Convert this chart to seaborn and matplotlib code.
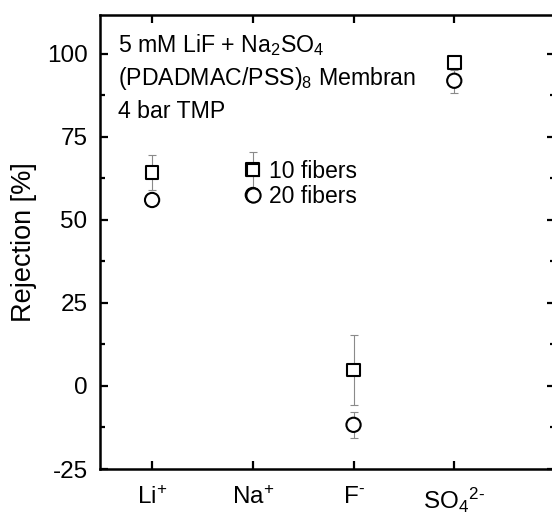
import matplotlib
matplotlib.use("Agg")
import matplotlib.pyplot as plt
from matplotlib.lines import Line2D
import seaborn as sns
import pandas as pd
import numpy as np

# ---- data ----
ions = ["Li+", "Na+", "F-", "SO4 2-"]
tick_labels = ["Li$^{+}$", "Na$^{+}$", "F$^{\\text{-}}$", "SO$_4$$^{2\\text{-}}$"]
fibers10 = [64.2, 65.1, 4.8, 97.3]
fibers10_err = [5.2, 5.4, 10.4, 2.2]
fibers20 = [56.0, 57.5, -11.7, 91.9]
fibers20_err = [1.0, 1.0, 4.0, 3.6]
series_names = ["10 fibers", "20 fibers"]

df = pd.DataFrame({
    "ion": ions * 2,
    "rejection": fibers10 + fibers20,
    "err": fibers10_err + fibers20_err,
    "series": [series_names[0]] * 4 + [series_names[1]] * 4,
})

sns.set_theme(style="white")
plt.rcParams["font.family"] = ["Liberation Sans", "DejaVu Sans"]
plt.rcParams["mathtext.fontset"] = "custom"
plt.rcParams["mathtext.rm"] = "Liberation Sans"
plt.rcParams["mathtext.it"] = "Liberation Sans"
plt.rcParams["axes.unicode_minus"] = False
for k in ["text.color", "axes.labelcolor", "xtick.color", "ytick.color"]:
    plt.rcParams[k] = "black"

fig = plt.figure(figsize=(5.52, 5.14), dpi=100)
ax = fig.add_axes([100 / 552, 45 / 514, 455 / 552, 454 / 514])

# error bars
for name, vals, errs in [(series_names[0], fibers10, fibers10_err),
                         (series_names[1], fibers20, fibers20_err)]:
    ax.errorbar(ions, vals, yerr=errs, fmt="none", ecolor="#8a8a8a",
                elinewidth=0.8, capsize=3.2, capthick=0.8, zorder=2)

sns.scatterplot(data=df, x="ion", y="rejection", style="series", size="series",
                markers={"10 fibers": "s", "20 fibers": "o"},
                sizes={"10 fibers": 85, "20 fibers": 105},
                facecolor="white", edgecolor="black", linewidth=1.5,
                legend=False, ax=ax, zorder=3)

ax.set_xlim(-0.517, 4.0)
ax.set_ylim(-25, 111.7)
ax.set_xticks(range(len(ions)))
ax.set_xticklabels(tick_labels)
ax.set_yticks([-25, 0, 25, 50, 75, 100])
ax.set_yticks([-12.5, 12.5, 37.5, 62.5, 87.5], minor=True)
ax.set_xlabel("")
ax.set_ylabel("Rejection [%]", fontsize=19.5, labelpad=7)

ax.tick_params(axis="both", which="major", direction="in", length=6, width=1.6,
               labelsize=17.5, top=True, right=True, left=True, bottom=True)
ax.tick_params(axis="x", which="major", pad=12)
ax.tick_params(axis="y", which="major", pad=9)
ax.tick_params(axis="y", which="minor", direction="in", length=3.5, width=1.6,
               left=True, right=True)
for sp in ax.spines.values():
    sp.set_linewidth(1.8)
    sp.set_color("black")

# annotation
ax.text(0.04, 0.9185, "5 mM LiF + Na$_2$SO$_4$", transform=ax.transAxes,
        fontsize=16.7, va="baseline")
ax.text(0.04, 0.846, "(PDADMAC/PSS)$_8$ Membran", transform=ax.transAxes,
        fontsize=16.7, va="baseline")
ax.text(0.04, 0.773, "4 bar TMP", transform=ax.transAxes,
        fontsize=16.7, va="baseline")

# legend: symbols placed exactly over the Na+ points (as in the original)
handles = [Line2D([], [], marker="s", ls="none", markersize=np.sqrt(85), mfc="white",
                  mec="black", mew=1.5),
           Line2D([], [], marker="o", ls="none", markersize=np.sqrt(105), mfc="white",
                  mec="black", mew=1.5)]
leg_fs = 16.5


def make_legend(anchor, spacing):
    return ax.legend(handles, series_names, loc="center left", bbox_to_anchor=anchor,
                     bbox_transform=ax.transData, frameon=False, fontsize=leg_fs,
                     handlelength=1.0, handletextpad=0.2, borderpad=0,
                     borderaxespad=0, labelspacing=spacing, numpoints=1)


def handle_centers(leg):
    fig.canvas.draw()
    out = []
    for h in leg.legend_handles:
        xy = h.get_transform().transform(h.get_xydata())
        out.append(xy.mean(axis=0))
    return out


targets = [ax.transData.transform((1, fibers10[1])),
           ax.transData.transform((1, fibers20[1]))]
spacing = 0.16
anchor = (0.885, (fibers10[1] + fibers20[1]) / 2)
leg = make_legend(anchor, spacing)
c = handle_centers(leg)
gap_now = c[0][1] - c[1][1]
gap_want = targets[0][1] - targets[1][1]
spacing += (gap_want - gap_now) / (leg_fs * fig.dpi / 72)
leg.remove()
leg = make_legend(anchor, spacing)
c = handle_centers(leg)
d = targets[0] - c[0]
a_disp = ax.transData.transform(anchor) + d
anchor = tuple(ax.transData.inverted().transform(a_disp))
leg.remove()
leg = make_legend(anchor, spacing)

fig.savefig("out.png", dpi=100)
